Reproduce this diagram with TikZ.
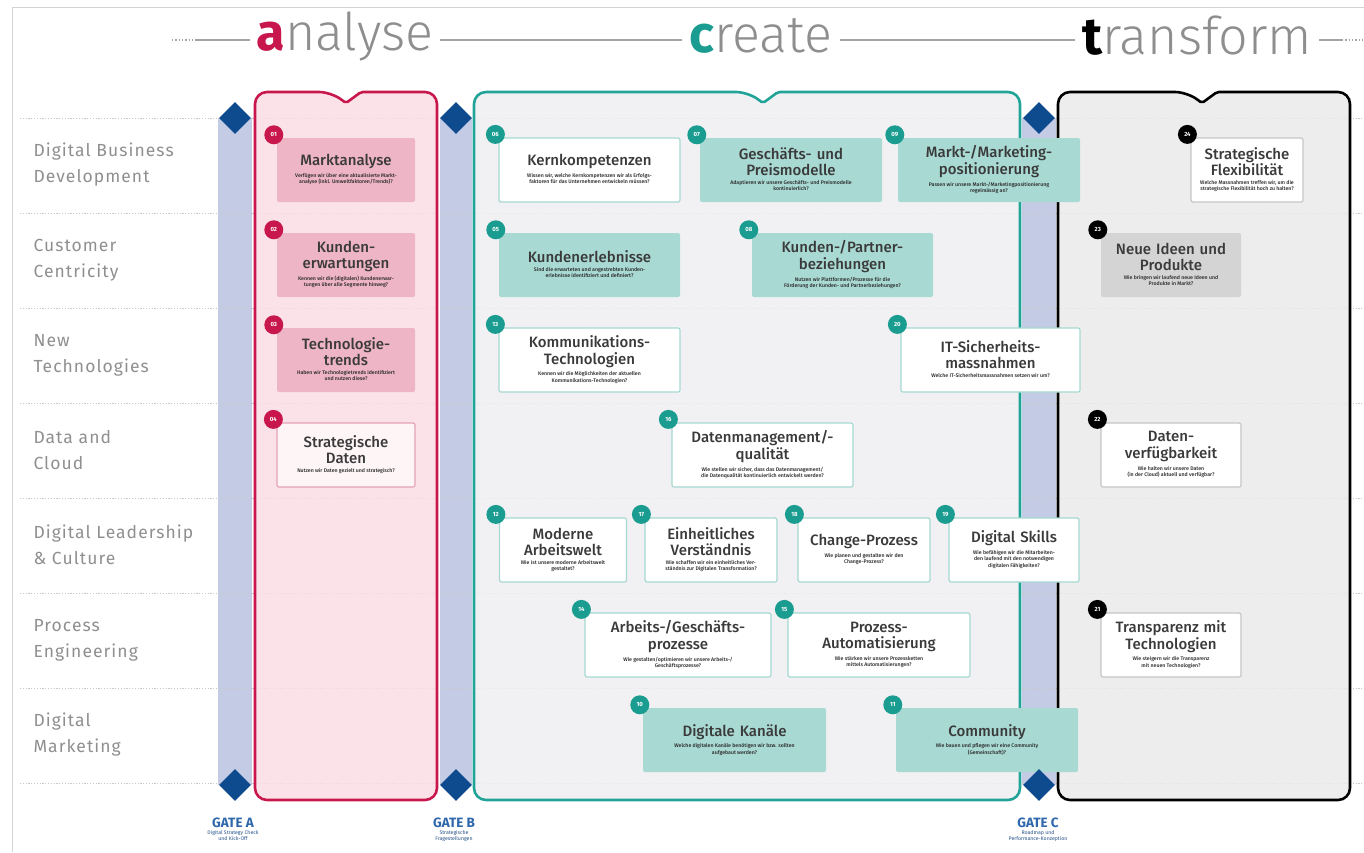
\documentclass[tikz,border=0pt]{standalone}
\usepackage{fontspec}
\setmainfont{Fira Sans}
\newfontfamily\headfont[BoldFont={Fira Sans Bold}]{Fira Sans Light}
\newfontfamily\cardfont{Fira Sans Medium}
\newfontfamily\rowfont[LetterSpace=6]{Fira Sans}
\usetikzlibrary{shapes.geometric,positioning}

\definecolor{crimson}{HTML}{C8174D}
\definecolor{pinkfill}{HTML}{FADDE5}
\definecolor{pinkcard}{HTML}{EEB5C6}
\definecolor{pinkedge}{HTML}{E5A2B6}
\definecolor{teal}{HTML}{1B9C90}
\definecolor{tealborder}{HTML}{21A398}
\definecolor{tealcard}{HTML}{A9D9D3}
\definecolor{tealedge}{HTML}{A6D8D1}
\definecolor{createfill}{HTML}{EEEFF1}
\definecolor{transfill}{HTML}{EAEAEA}
\definecolor{greycard}{HTML}{D4D4D4}
\definecolor{greyedge}{HTML}{C6C6C6}
\definecolor{bandblue}{HTML}{C4CCE5}
\definecolor{navy}{HTML}{0E4A8E}
\definecolor{gateblue}{HTML}{2E67AB}
\definecolor{headgrey}{HTML}{8E8E8E}
\definecolor{rowgrey}{HTML}{8F8F8F}
\definecolor{rowdot}{HTML}{C8C8C8}
\definecolor{titletext}{HTML}{3A3A3A}
\definecolor{qtext}{HTML}{2A2A2A}

% small question block under a card title
\newcommand\quest[1]{\par\vspace{3pt}{\spaceskip=0pt\xspaceskip=0pt
  \fontsize{5.2}{6.3}\selectfont\color{qtext}\begin{tabular}{@{}c@{}}#1\end{tabular}\par}}

\tikzset{
  head/.style={font=\headfont\fontsize{52}{52}\selectfont, text=headgrey, inner xsep=7pt, inner ysep=0pt},
  headline/.style={headgrey!80, line width=1.3pt},
  rowlabel/.style={anchor=west, align=left, font=\rowfont\fontsize{17.5}{26}\selectfont, text=rowgrey},
  rowline/.style={rowdot, line width=0.9pt, dash pattern=on 1.2pt off 1.6pt},
  phase/.style={line width=2.6pt, rounded corners=12pt, fill opacity=0.85},
  gateband/.style={fill=bandblue},
  gatediamond/.style={diamond, fill=navy, minimum width=32pt, minimum height=32pt, inner sep=0pt},
  gatelabel/.style={font=\bfseries\fontsize{13.5}{14}\selectfont, text=gateblue, inner sep=1pt},
  gatenote/.style={font=\fontsize{5.2}{6.2}\selectfont, text=gateblue!80!black, align=center, inner sep=1pt},
  card/.style={rectangle, rounded corners=2pt, align=center, inner xsep=4pt, inner ysep=3pt,
    minimum height=64pt, font=\cardfont\fontsize{15}{16.5}\selectfont, text=titletext},
  cardA/.style={card, fill=pinkcard},
  cardAo/.style={card, fill=white!70!pinkfill, draw=pinkedge, line width=1.2pt},
  cardC/.style={card, fill=tealcard},
  cardCo/.style={card, fill=white, draw=tealedge, line width=1.2pt},
  cardT/.style={card, fill=greycard},
  cardTo/.style={card, fill=white, draw=greyedge, line width=1.2pt},
  badge/.style={circle, minimum size=19pt, inner sep=0pt, text=white, font=\bfseries\fontsize{6}{6}\selectfont},
  badgeA/.style={badge, fill=crimson},
  badgeC/.style={badge, fill=teal},
  badgeT/.style={badge, fill=black},
}

\begin{document}
\begin{tikzpicture}[x=1pt, y=-1pt]
  \useasboundingbox (0,0) rectangle (1364,852);
  \draw[rowdot!80, line width=0.8pt] (12,852) |- (1364,7);

  % phase headings
  \node[head] (ana) at (345,36) {\textcolor{crimson}{\bfseries a}nalyse};
  \node[head] (cre) at (761,36) {\textcolor{teal}{\bfseries c}reate};
  \node[head] (tra) at (1197,36) {\textcolor{black}{\bfseries t}ransform};
  \draw[headline, dotted] (172,40) -- (196,40);
  \draw[headline] (196,40) -- (ana.west |- 0,40);
  \draw[headline] (ana.east |- 0,40) -- (cre.west |- 0,40);
  \draw[headline] (cre.east |- 0,40) -- (tra.west |- 0,40);
  \draw[headline] (tra.east |- 0,40) -- (1342,40);
  \draw[headline, dotted] (1342,40) -- (1364,40);

  % gate bands
  \coordinate (gAt) at (235,118); \coordinate (gAb) at (235,785);
  \coordinate (gBt) at (456,118); \coordinate (gBb) at (456,785);
  \coordinate (gCt) at (1039,118); \coordinate (gCb) at (1039,785);
  \fill[gateband] ([xshift=-17]gAt) rectangle ([xshift=17]gAb);
  \fill[gateband] ([xshift=-16]gBt) rectangle ([xshift=16]gBb);
  \fill[gateband] ([xshift=-17]gCt) rectangle ([xshift=17]gCb);

  % rows
  \foreach \i in {0,...,7}
    \draw[rowline] (20,{118+95*\i}) -- (1364,{118+95*\i});
  \foreach \lab [count=\i] in {{Digital Business\\Development},{Customer\\Centricity},
      {New\\Technologies},{Data and\\Cloud},{Digital Leadership\\\& Culture},
      {Process\\Engineering},{Digital\\Marketing}}
    \node[rowlabel] (row\i) at (30,{70+95*\i}) {\lab};

  % phase panels
  \filldraw[phase, draw=crimson, fill=pinkfill]
    (255,446) |- (331,92) [rounded corners=2pt] -- (346,103) -- (361,92)
    [rounded corners=12pt] -| (437,800) -| (255,446) -- cycle;
  \filldraw[phase, draw=tealborder, fill=createfill]
    (474,446) |- (748,92) [rounded corners=2pt] -- (763,103) -- (778,92)
    [rounded corners=12pt] -| (1020,800) -| (474,446) -- cycle;
  \filldraw[phase, draw=black, fill=transfill]
    (1058,446) |- (1187,92) [rounded corners=2pt] -- (1202,103) -- (1217,92)
    [rounded corners=12pt] -| (1350,800) -| (1058,446) -- cycle;

  % analyse
  \node[cardA, text width=130pt] (c01) at (346,170) {Marktanalyse\quest{Verfügen wir über eine aktualisierte Markt-\\analyse (inkl. Umweltfaktoren/Trends)?}};
  \node[badgeA] (n01) at ([shift={(-3,-3)}]c01.north west) {01};
  \node[cardA, text width=130pt] (c02) at (346,265) {Kunden-\\erwartungen\quest{Kennen wir die (digitalen) Kundenerwar-\\tungen über alle Segmente hinweg?}};
  \node[badgeA] (n02) at ([shift={(-3,-3)}]c02.north west) {02};
  \node[cardA, text width=130pt] (c03) at (346,360) {Technologie-\\trends\quest{Haben wir Technologietrends identifiziert\\und nutzen diese?}};
  \node[badgeA] (n03) at ([shift={(-3,-3)}]c03.north west) {03};
  \node[cardAo, text width=130pt] (c04) at (346,455) {Strategische\\Daten\quest{Nutzen wir Daten gezielt und strategisch?}};
  \node[badgeA] (n04) at ([shift={(-3,-3)}]c04.north west) {04};

  % create
  \node[cardCo, text width=173pt] (c06) at (589.5,170) {Kernkompetenzen\quest{Wissen wir, welche Kernkompetenzen wir als Erfolgs-\\faktoren für das Unternehmen entwickeln müssen?}};
  \node[badgeC] (n06) at ([shift={(-3,-3)}]c06.north west) {06};
  \node[cardC, text width=174pt] (c07) at (791,170) {Geschäfts- und\\Preismodelle\quest{Adaptieren wir unsere Geschäfts- und Preismodelle\\kontinuierlich?}};
  \node[badgeC] (n07) at ([shift={(-3,-3)}]c07.north west) {07};
  \node[cardC, text width=174pt] (c09) at (989,170) {Markt-/Marketing-\\positionierung\quest{Passen wir unsere Markt-/Marketingpositionierung\\regelmässig an?}};
  \node[badgeC] (n09) at ([shift={(-3,-3)}]c09.north west) {09};
  \node[cardC, text width=173pt] (c05) at (589.5,265) {Kundenerlebnisse\quest{Sind die erwarteten und angestrebten Kunden-\\erlebnisse identifiziert und definiert?}};
  \node[badgeC] (n05) at ([shift={(-3,-3)}]c05.north west) {05};
  \node[cardC, text width=173pt] (c08) at (842.5,265) {Kunden-/Partner-\\beziehungen\quest{Nutzen wir Plattformen/Prozesse für die\\Förderung der Kunden- und Partnerbeziehungen?}};
  \node[badgeC] (n08) at ([shift={(-3,-3)}]c08.north west) {08};
  \node[cardCo, text width=173pt] (c13) at (589.5,360) {Kommunikations-\\Technologien\quest{Kennen wir die Möglichkeiten der aktuellen\\Kommunikations-Technologien?}};
  \node[badgeC] (n13) at ([shift={(-3,-3)}]c13.north west) {13};
  \node[cardCo, text width=171pt] (c20) at (990.5,360) {IT-Sicherheits-\\massnahmen\quest{Welche IT-Sicherheitsmassnahmen setzen wir um?}};
  \node[badgeC] (n20) at ([shift={(-3,-3)}]c20.north west) {20};
  \node[cardCo, text width=173pt] (c16) at (762.5,455) {Datenmanagement/-\\qualität\quest{Wie stellen wir sicher, dass das Datenmanagement/\\die Datenqualität kontinuierlich entwickelt werden?}};
  \node[badgeC] (n16) at ([shift={(-3,-3)}]c16.north west) {16};
  \node[cardCo, text width=119pt] (c12) at (563,550) {Moderne\\Arbeitswelt\quest{Wie ist unsere moderne Arbeitswelt\\gestaltet?}};
  \node[badgeC] (n12) at ([shift={(-3,-3)}]c12.north west) {12};
  \node[cardCo, text width=124pt] (c17) at (711,550) {Einheitliches\\Verständnis\quest{Wie schaffen wir ein einheitliches Ver-\\ständnis zur Digitalen Transformation?}};
  \node[badgeC] (n17) at ([shift={(-3,-3)}]c17.north west) {17};
  \node[cardCo, text width=124pt] (c18) at (864,550) {Change-Prozess\quest{Wie planen und gestalten wir den\\Change-Prozess?}};
  \node[badgeC] (n18) at ([shift={(-3,-3)}]c18.north west) {18};
  \node[cardCo, text width=122pt] (c19) at (1014,550) {Digital Skills\quest{Wie befähigen wir die Mitarbeiten-\\den laufend mit den notwendigen\\digitalen Fähigkeiten?}};
  \node[badgeC] (n19) at ([shift={(-3,-3)}]c19.north west) {19};
  \node[cardCo, text width=178pt] (c14) at (678,645) {Arbeits-/Geschäfts-\\prozesse\quest{Wie gestalten/optimieren wir unsere Arbeits-/\\Geschäftsprozesse?}};
  \node[badgeC] (n14) at ([shift={(-3,-3)}]c14.north west) {14};
  \node[cardCo, text width=174pt] (c15) at (879,645) {Prozess-\\Automatisierung\quest{Wie stärken wir unsere Prozessketten\\mittels Automatisierungen?}};
  \node[badgeC] (n15) at ([shift={(-3,-3)}]c15.north west) {15};
  \node[cardC, text width=175pt] (c10) at (734.5,740) {Digitale Kanäle\quest{Welche digitalen Kanäle benötigen wir bzw. sollten\\aufgebaut werden?}};
  \node[badgeC] (n10) at ([shift={(-3,-3)}]c10.north west) {10};
  \node[cardC, text width=174pt] (c11) at (987,740) {Community\quest{Wie bauen und pflegen wir eine Community\\(Gemeinschaft)?}};
  \node[badgeC] (n11) at ([shift={(-3,-3)}]c11.north west) {11};

  % transform
  \node[cardTo, text width=104pt] (c24) at (1247,170) {Strategische\\Flexibilität\quest{Welche Massnahmen treffen wir, um die\\strategische Flexibilität hoch zu halten?}};
  \node[badgeT] (n24) at ([shift={(-3,-3)}]c24.north west) {24};
  \node[cardT, text width=132pt] (c23) at (1171,265) {Neue Ideen und\\Produkte\quest{Wie bringen wir laufend neue Ideen und\\Produkte in Markt?}};
  \node[badgeT] (n23) at ([shift={(-3,-3)}]c23.north west) {23};
  \node[cardTo, text width=132pt] (c22) at (1171,455) {Daten-\\verfügbarkeit\quest{Wie halten wir unsere Daten\\(in der Cloud) aktuell und verfügbar?}};
  \node[badgeT] (n22) at ([shift={(-3,-3)}]c22.north west) {22};
  \node[cardTo, text width=132pt] (c21) at (1171,645) {Transparenz mit\\Technologien\quest{Wie steigern wir die Transparenz\\mit neuen Technologien?}};
  \node[badgeT] (n21) at ([shift={(-3,-3)}]c21.north west) {21};

  % gates
  \node[gatediamond] (dAt) at (gAt) {};
  \node[gatediamond] (dAb) at (gAb) {};
  \node[gatediamond] (dBt) at (gBt) {};
  \node[gatediamond] (dBb) at (gBb) {};
  \node[gatediamond] (dCt) at (gCt) {};
  \node[gatediamond] (dCb) at (gCb) {};
  \node[gatelabel] (lA) at (233,823) {GATE A};
  \node[gatenote, below=0pt of lA] (sA) {Digital Strategy Check\\und Kick-Off};
  \node[gatelabel] (lB) at (454,823) {GATE B};
  \node[gatenote, below=0pt of lB] (sB) {Strategische\\Fragestellungen};
  \node[gatelabel] (lC) at (1038,823) {GATE C};
  \node[gatenote, below=0pt of lC] (sC) {Roadmap und\\Performance-Konzeption};
\end{tikzpicture}
\end{document}
